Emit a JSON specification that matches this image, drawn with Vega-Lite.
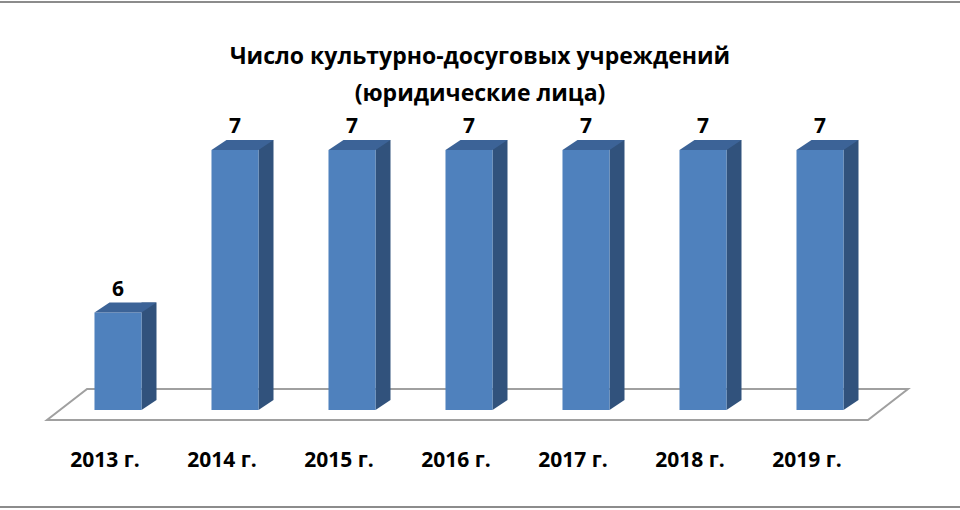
{
  "$schema": "https://vega.github.io/schema/vega-lite/v6.json",
  "width": 960,
  "height": 505,
  "autosize": {"type": "none"},
  "padding": {"left": 0, "top": 2, "right": 0, "bottom": 3},
  "background": "white",
  "title": {
    "text": ["Число культурно-досуговых учреждений", "(юридические лица)"],
    "font": "Open Sans",
    "fontSize": 23,
    "fontWeight": "bold",
    "color": "black",
    "lineHeight": 37,
    "baseline": "alphabetic",
    "anchor": "middle",
    "frame": "group",
    "offset": -122
  },
  "data": {
    "values": [
      {"year": "2013 г.", "value": 6},
      {"year": "2014 г.", "value": 7},
      {"year": "2015 г.", "value": 7},
      {"year": "2016 г.", "value": 7},
      {"year": "2017 г.", "value": 7},
      {"year": "2018 г.", "value": 7},
      {"year": "2019 г.", "value": 7}
    ]
  },
  "encoding": {
    "x": {
      "field": "year",
      "type": "nominal",
      "sort": null,
      "scale": {
        "domain": ["2013 г.", "2014 г.", "2015 г.", "2016 г.", "2017 г.", "2018 г.", "2019 г."],
        "range": [59.5, 878.5],
        "paddingInner": 0.598,
        "paddingOuter": 0.299
      },
      "axis": {
        "title": null,
        "domain": false,
        "ticks": false,
        "tickSize": 0,
        "grid": false,
        "labelAngle": 0,
        "offset": -41,
        "labelPadding": 0,
        "labelBaseline": "alphabetic",
        "labelOffset": -13,
        "labelFont": "Open Sans",
        "labelFontSize": 21,
        "labelFontWeight": "bold",
        "labelColor": "black"
      }
    },
    "y": {
      "field": "value",
      "type": "quantitative",
      "scale": {"domain": [5.4, 7], "range": [408, 148], "zero": false, "nice": false},
      "axis": null
    }
  },
  "layer": [
    {
      "transform": [{"filter": "datum.year === '2016 г.'"}],
      "mark": {
        "type": "point",
        "shape": "M-1,0.036L0.907,0.036L1,-0.036L-0.907,-0.036Z",
        "size": 741321,
        "filled": false,
        "fill": "white",
        "fillOpacity": 1,
        "stroke": "#a0a0a0",
        "strokeWidth": 2,
        "opacity": 1,
        "xOffset": 8.5,
        "yOffset": -5.5
      },
      "encoding": {
        "y": {"datum": 5.4, "type": "quantitative"}
      }
    },
    {
      "mark": {"type": "bar", "width": 15, "xOffset": 31, "yOffset": -10, "y2Offset": -10, "color": "#31527c"},
      "encoding": {
        "y2": {"datum": 5.4}
      }
    },
    {
      "mark": {
        "type": "point",
        "shape": "M-1,-0.667L1,-0.667L-1,0.667Z",
        "size": 225,
        "filled": true,
        "color": "#31527c",
        "opacity": 1,
        "strokeWidth": 0,
        "xOffset": 31,
        "yOffset": -5
      },
      "encoding": {
        "y": {"datum": 5.4, "type": "quantitative"}
      }
    },
    {
      "mark": {"type": "bar", "color": "#4f81bd"},
      "encoding": {
        "y2": {"datum": 5.4}
      }
    },
    {
      "mark": {
        "type": "point",
        "shape": "M-1,0.161L0.516,0.161L1,-0.161L-0.516,-0.161Z",
        "size": 3844,
        "filled": true,
        "color": "#3c6397",
        "opacity": 1,
        "strokeWidth": 0,
        "xOffset": 7.5,
        "yOffset": -5
      }
    },
    {
      "mark": {
        "type": "text",
        "font": "Open Sans",
        "fontSize": 21,
        "fontWeight": "bold",
        "color": "black",
        "baseline": "alphabetic",
        "dy": -17
      },
      "encoding": {
        "text": {"field": "value", "type": "quantitative"}
      }
    }
  ],
  "config": {
    "view": {"stroke": "#8c8c8c", "strokeWidth": 2, "strokeDash": [960, 505]}
  }
}
